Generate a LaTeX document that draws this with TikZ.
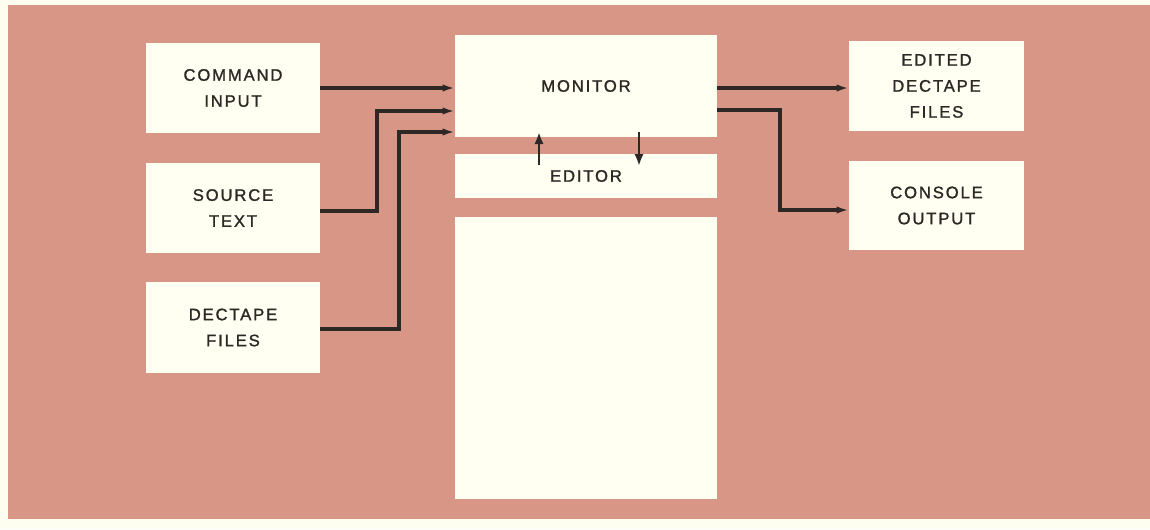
\documentclass[tikz,border=0pt]{standalone}
\usepackage{fontspec}
\setmainfont{Liberation Sans}[LetterSpace=11, FakeBold=1.3]
\usetikzlibrary{arrows.meta}
\definecolor{bgsalmon}{RGB}{216,150,135}
\definecolor{paper}{RGB}{253,253,240}
\definecolor{boxfill}{RGB}{255,255,242}
\definecolor{ink}{RGB}{45,40,38}
\tikzset{
  box/.style={rectangle, fill=boxfill, draw=none, inner sep=0pt, align=center,
    text=ink, font={\fontsize{12.5}{19.5}\selectfont}},
  flow/.style={draw=ink, line width=2.3pt, -{Latex[length=9pt,width=5.5pt]}},
  thinflow/.style={draw=ink, line width=1.8pt, -{Latex[length=9pt,width=7pt]}}
}
\begin{document}
\begin{tikzpicture}[x=0.75pt,y=-0.75pt]
\fill[paper] (0,0) rectangle (1150,529);
\useasboundingbox (0,0) rectangle (1150,529);
\fill[bgsalmon] (8,5) rectangle (1150,519);
% left inputs
\node[box, minimum width=130.5pt, minimum height=67.5pt] (cmd) at (233,88) {COMMAND\\INPUT};
\node[box, minimum width=130.5pt, minimum height=67.5pt] (src) at (233,208) {SOURCE\\TEXT};
\node[box, minimum width=130.5pt, minimum height=68.25pt] (dec) at (233,327.5) {DECTAPE\\FILES};
% centre column
\node[box, minimum width=196.5pt, minimum height=76.5pt] (mon) at (586,86) {\raisebox{-1.5pt}{MONITOR}};
\node[box, minimum width=196.5pt, minimum height=33pt] (edit) at (586,176) {\raisebox{-3.5pt}{EDITOR}};
\node[box, minimum width=196.5pt, minimum height=211.5pt] (big) at (586,358) {};
% right outputs
\node[box, minimum width=131.25pt, minimum height=67.5pt] (edt) at (936.5,86) {EDITED\\DECTAPE\\FILES};
\node[box, minimum width=131.25pt, minimum height=66.75pt] (con) at (936.5,205.5) {CONSOLE\\OUTPUT};
% turning points
\coordinate (s1) at (377,211);
\coordinate (s2) at (377,111);
\coordinate (d1) at (399,329);
\coordinate (d2) at (399,132);
\coordinate (o1) at (780,110);
\coordinate (o2) at (780,210);
% inputs to monitor
\draw[flow] (cmd.east) -- (cmd.east -| mon.west);
\draw[flow] (src.east |- s1) -- (s1) -- (s2) -- (s2 -| mon.west);
\draw[flow] (dec.east |- d1) -- (d1) -- (d2) -- (d2 -| mon.west);
% monitor <-> editor
\draw[thinflow] (539,165) -- (539,132);
\draw[thinflow] (639,132) -- (639,166);
% outputs
\draw[flow] (mon.east |- 0,88) -- (edt.west |- 0,88);
\draw[flow] (mon.east |- o1) -- (o1) -- (o2) -- (o2 -| con.west);
\end{tikzpicture}
\end{document}
